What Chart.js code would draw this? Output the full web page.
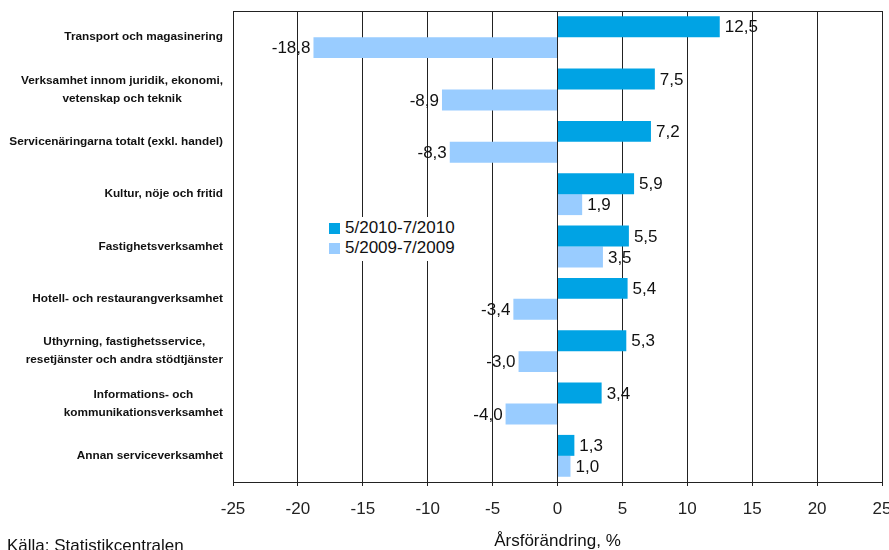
<!DOCTYPE html>
<html>
<head>
<meta charset="utf-8">
<script src="https://cdn.jsdelivr.net/npm/chart.js@4.4.1/dist/chart.umd.min.js"></script>
<style>
  body { margin: 0; background: #fff; }
  #wrap { position: relative; width: 889px; height: 550px; font-family: "Liberation Sans", Arial, sans-serif; }
  #legend { position: absolute; left: 325px; top: 217px; width: 142px; height: 44px; background: #fff; }
  .item { position: absolute; left: 4px; font-size: 17px; line-height: 20px; color: #111; white-space: nowrap; }
  .item span { display: inline-block; width: 11px; height: 11px; margin-right: 5px; vertical-align: -1px; }
  #source { position: absolute; left: 7px; top: 536px; font-size: 17px; color: #111; }
</style>
</head>
<body>
<div id="wrap">
  <canvas id="chart" width="889" height="550"></canvas>
  <div id="legend"></div>
  <div id="source">Källa: Statistikcentralen</div>
</div>
<script>
// categories, top to bottom
const categories = [
  ['Transport och magasinering'],
  ['Verksamhet innom juridik, ekonomi,', 'vetenskap och teknik'],
  ['Servicenäringarna totalt (exkl. handel)'],
  ['Kultur, nöje och fritid'],
  ['Fastighetsverksamhet'],
  ['Hotell- och restaurangverksamhet'],
  ['Uthyrning, fastighetsservice,', 'resetjänster och andra stödtjänster'],
  ['Informations- och', 'kommunikationsverksamhet'],
  ['Annan serviceverksamhet']
];
const seriesNames = ['5/2010-7/2010', '5/2009-7/2009'];
const values2010 = [12.5, 7.5, 7.2, 5.9, 5.5, 5.4, 5.3, 3.4, 1.3];
const values2009 = [-18.8, -8.9, -8.3, 1.9, 3.5, -3.4, -3.0, -4.0, 1.0];
const seriesColors = ['#00A3E4', '#99CCFF'];
const xTicks = [-25, -20, -15, -10, -5, 0, 5, 10, 15, 20, 25];
const axisTitle = 'Årsförändring, %';

const FONT = '"Liberation Sans", Arial, sans-serif';

// legend (html, sits on a white box inside the plot like the original)
const legendEl = document.getElementById('legend');
seriesNames.forEach((name, i) => {
  const d = document.createElement('div');
  d.className = 'item';
  d.style.top = (1 + i * 20) + 'px';
  d.innerHTML = '<span style="background:' + seriesColors[i] + '"></span>' + name;
  legendEl.appendChild(d);
});

// numbers next to bars, category labels and the top frame line
const barLabels = {
  id: 'barLabels',
  afterDatasetsDraw(chart) {
    const ctx = chart.ctx;
    ctx.save();
    ctx.font = '17px ' + FONT;
    ctx.fillStyle = '#111';
    ctx.textBaseline = 'middle';
    chart.data.datasets.forEach((ds, i) => {
      chart.getDatasetMeta(i).data.forEach((bar, j) => {
        const v = ds.data[j];
        const txt = v.toFixed(1).replace('.', ',');
        if (v >= 0) {
          ctx.textAlign = 'left';
          ctx.fillText(txt, bar.x + 5, bar.y + 1);
        } else {
          ctx.textAlign = 'right';
          ctx.fillText(txt, bar.x - 3, bar.y + 1);
        }
      });
    });
    ctx.restore();
  },
  afterDraw(chart) {
    const ctx = chart.ctx;
    const area = chart.chartArea;
    const y = chart.scales.y;
    ctx.save();
    // frame top
    ctx.strokeStyle = '#222';
    ctx.lineWidth = 1;
    ctx.beginPath();
    ctx.moveTo(area.left, Math.round(area.top) + 0.5);
    ctx.lineTo(area.right, Math.round(area.top) + 0.5);
    ctx.stroke();

    // category labels: block right aligned, lines centred within the block
    ctx.font = 'bold 11.8px ' + FONT;
    ctx.fillStyle = '#111';
    ctx.textBaseline = 'middle';
    ctx.textAlign = 'center';
    const right = area.left - 10;
    const lh = 18;
    chart.data.labels.forEach((lines, i) => {
      const cy = y.getPixelForTick(i);
      const w = Math.max(...lines.map(l => ctx.measureText(l).width));
      const cx = right - w / 2;
      const y0 = cy - (lines.length - 1) * lh / 2;
      lines.forEach((l, k) => ctx.fillText(l, cx, y0 + k * lh));
    });
    ctx.restore();
  }
};

new Chart(document.getElementById('chart'), {
  type: 'bar',
  data: {
    labels: categories,
    datasets: [
      { label: seriesNames[0], data: values2010, backgroundColor: seriesColors[0], borderWidth: 0 },
      { label: seriesNames[1], data: values2009, backgroundColor: seriesColors[1], borderWidth: 0 }
    ]
  },
  options: {
    indexAxis: 'y',
    responsive: false,
    animation: false,
    categoryPercentage: 0.8,
    barPercentage: 1.0,
    layout: { padding: { top: 11, right: 7, left: 0, bottom: 0 } },
    scales: {
      x: {
        min: xTicks[0],
        max: xTicks[xTicks.length - 1],
        afterBuildTicks: scale => { scale.ticks = xTicks.map(v => ({ value: v })); },
        afterFit: scale => { scale.height = 68; scale.paddingLeft = 0; scale.paddingRight = 0; },
        grid: { color: '#222', lineWidth: 1, tickLength: 4, drawTicks: true },
        border: { display: true, color: '#222', width: 1 },
        ticks: { color: '#222', padding: 13, font: { family: FONT, size: 17 }, maxRotation: 0 },
        title: { display: true, text: axisTitle, color: '#111', font: { family: FONT, size: 17, lineHeight: 1 }, padding: 0 }
      },
      y: {
        afterFit: scale => { scale.width = 233; },
        grid: { display: false },
        border: { display: true, color: '#222', width: 1 },
        ticks: { display: false }
      }
    },
    plugins: {
      legend: { display: false },
      tooltip: { enabled: false }
    }
  },
  plugins: [barLabels]
});
</script>
</body>
</html>
